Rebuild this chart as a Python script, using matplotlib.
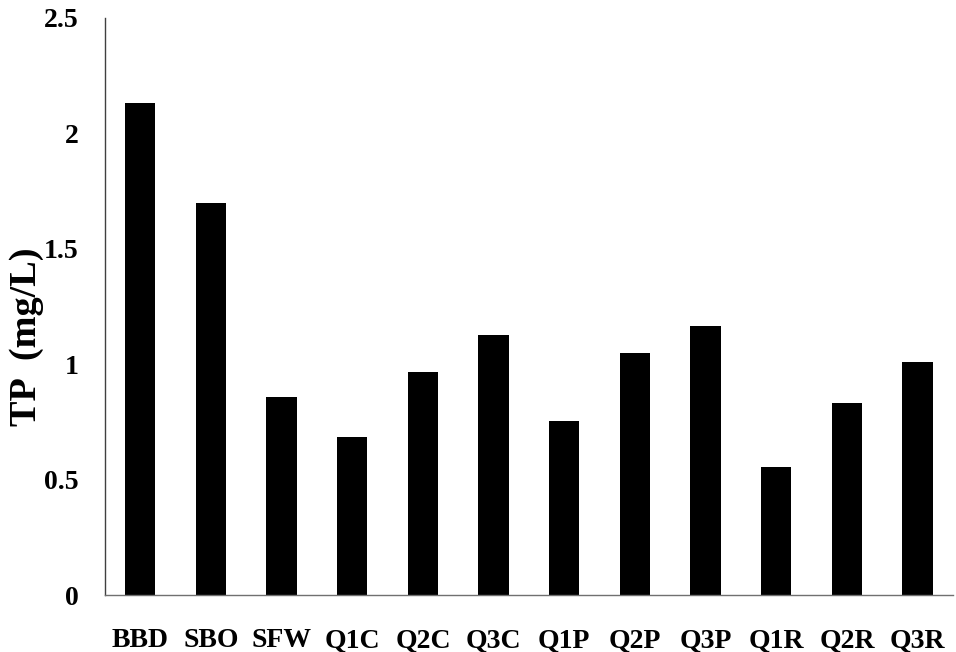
import matplotlib.pyplot as plt
import numpy as np

# 数据
sites = ['BBD', 'SBO', 'SFW', 'Q1C', 'Q2C', 'Q3C', 'Q1P', 'Q2P', 'Q3P', 'Q1R', 'Q2R', 'Q3R']
tp = [2.13, 1.70, 0.857, 0.686, 0.968, 1.127, 0.755, 1.049, 1.167, 0.556, 0.831, 1.008]

plt.rcParams['font.family'] = ['Liberation Serif', 'DejaVu Serif']
plt.rcParams['font.weight'] = 'bold'

fig = plt.figure(figsize=(9.56, 6.52), dpi=100)
ax = fig.add_axes([0.1098, 0.0874, 0.887, 0.885])

x = np.arange(len(sites))
ax.bar(x, tp, width=0.43, color='black')

ax.set_xlim(-0.5, len(sites) - 0.5)
ax.set_ylim(0, 2.5)
ax.set_yticks([0, 0.5, 1, 1.5, 2, 2.5])
ax.set_yticklabels(['0', '0.5', '1', '1.5', '2', '2.5'])
ax.set_xticks(x)
ax.set_xticklabels(sites)
ax.tick_params(axis='both', length=0, labelsize=20)
ax.tick_params(axis='x', pad=24)
ax.tick_params(axis='y', pad=19)
for lab in ax.get_xticklabels() + ax.get_yticklabels():
    lab.set_fontweight('bold')

# 纵轴标题
ax.set_ylabel('TP  (mg/L)', fontsize=27.5, fontweight='bold', va='center')
ax.yaxis.set_label_coords(-0.092, 0.447)

for s in ['top', 'right']:
    ax.spines[s].set_visible(False)
ax.spines['left'].set_color('#404040')
ax.spines['bottom'].set_color('#707070')
ax.spines['left'].set_linewidth(1)
ax.spines['bottom'].set_linewidth(1)

plt.savefig('out.png', dpi=100)
